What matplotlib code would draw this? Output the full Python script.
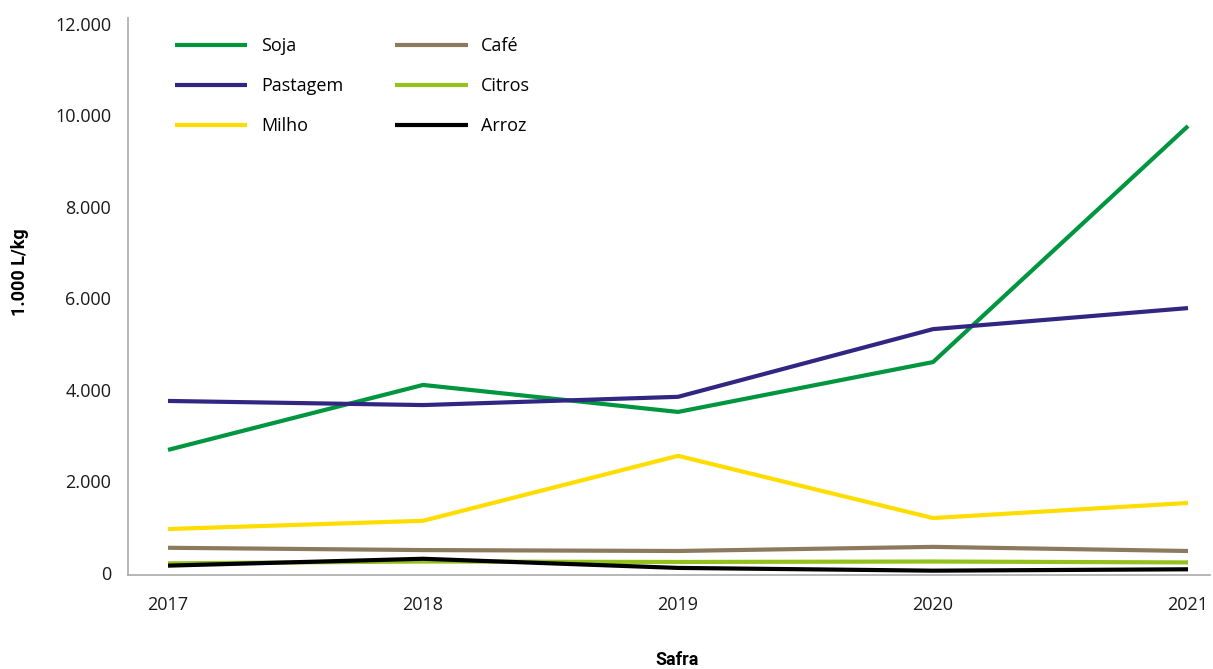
import matplotlib
matplotlib.use("Agg")
import matplotlib.pyplot as plt
from matplotlib.ticker import FuncFormatter

# safras (anos)
years = [2017, 2018, 2019, 2020, 2021]

# pegada hidrica, 1.000 L/kg
soja = [2690, 4110, 3520, 4610, 9770]
pastagem = [3760, 3670, 3850, 5330, 5790]
milho = [960, 1140, 2560, 1200, 1530]
cafe = [550, 500, 480, 570, 480]
citros = [210, 250, 240, 250, 230]
arroz = [160, 310, 110, 50, 80]

series = [
    ("Soja", soja, "#009640"),
    ("Pastagem", pastagem, "#312783"),
    ("Milho", milho, "#FFDD00"),
    ("Café", cafe, "#8B7A5E"),
    ("Citros", citros, "#95C11F"),
    ("Arroz", arroz, "#000000"),
]

plt.rcParams['font.family'] = ['Open Sans', 'DejaVu Sans']

fig = plt.figure(figsize=(12.13, 6.69), dpi=100)
ax = fig.add_axes([0.1055, 0.1405, 0.892, 0.8325])

for name, vals, color in series:
    ax.plot(years, vals, color=color, lw=3, label=name, solid_capstyle='butt')

ax.set_xlim(2016.843, 2021.086)
ax.set_ylim(-45, 12130)
ax.set_xticks(years)
ax.set_yticks(range(0, 12001, 2000))
ax.yaxis.set_major_formatter(FuncFormatter(lambda v, p: f"{int(v):,}".replace(",", ".")))
ax.tick_params(length=0, labelsize=13, colors="#1a1a1a")
ax.tick_params(axis='y', pad=12)
ax.tick_params(axis='x', pad=15)

for s in ("top", "right"):
    ax.spines[s].set_visible(False)
for s in ("left", "bottom"):
    ax.spines[s].set_color("#aaaaaa")
    ax.spines[s].set_linewidth(1.2)

# axis titles placed directly so they stay inside the figure
fig.text(20 / 1213, 1 - 272 / 669, "1.000 L/kg", rotation=90, ha="center", va="center",
         fontsize=13, fontweight="bold", family=["Roboto", "DejaVu Sans"])
fig.text(677 / 1213, 1 - 660 / 669, "Safra", ha="center", va="center",
         fontsize=13, fontweight="bold", family=["Roboto", "DejaVu Sans"])

ax.legend(loc="upper left", bbox_to_anchor=(0.0285, 0.995), ncol=2, frameon=False,
          fontsize=13, handlelength=4.0, handletextpad=0.75, labelspacing=1.22,
          columnspacing=2.9)

fig.savefig("out.png", dpi=100)
